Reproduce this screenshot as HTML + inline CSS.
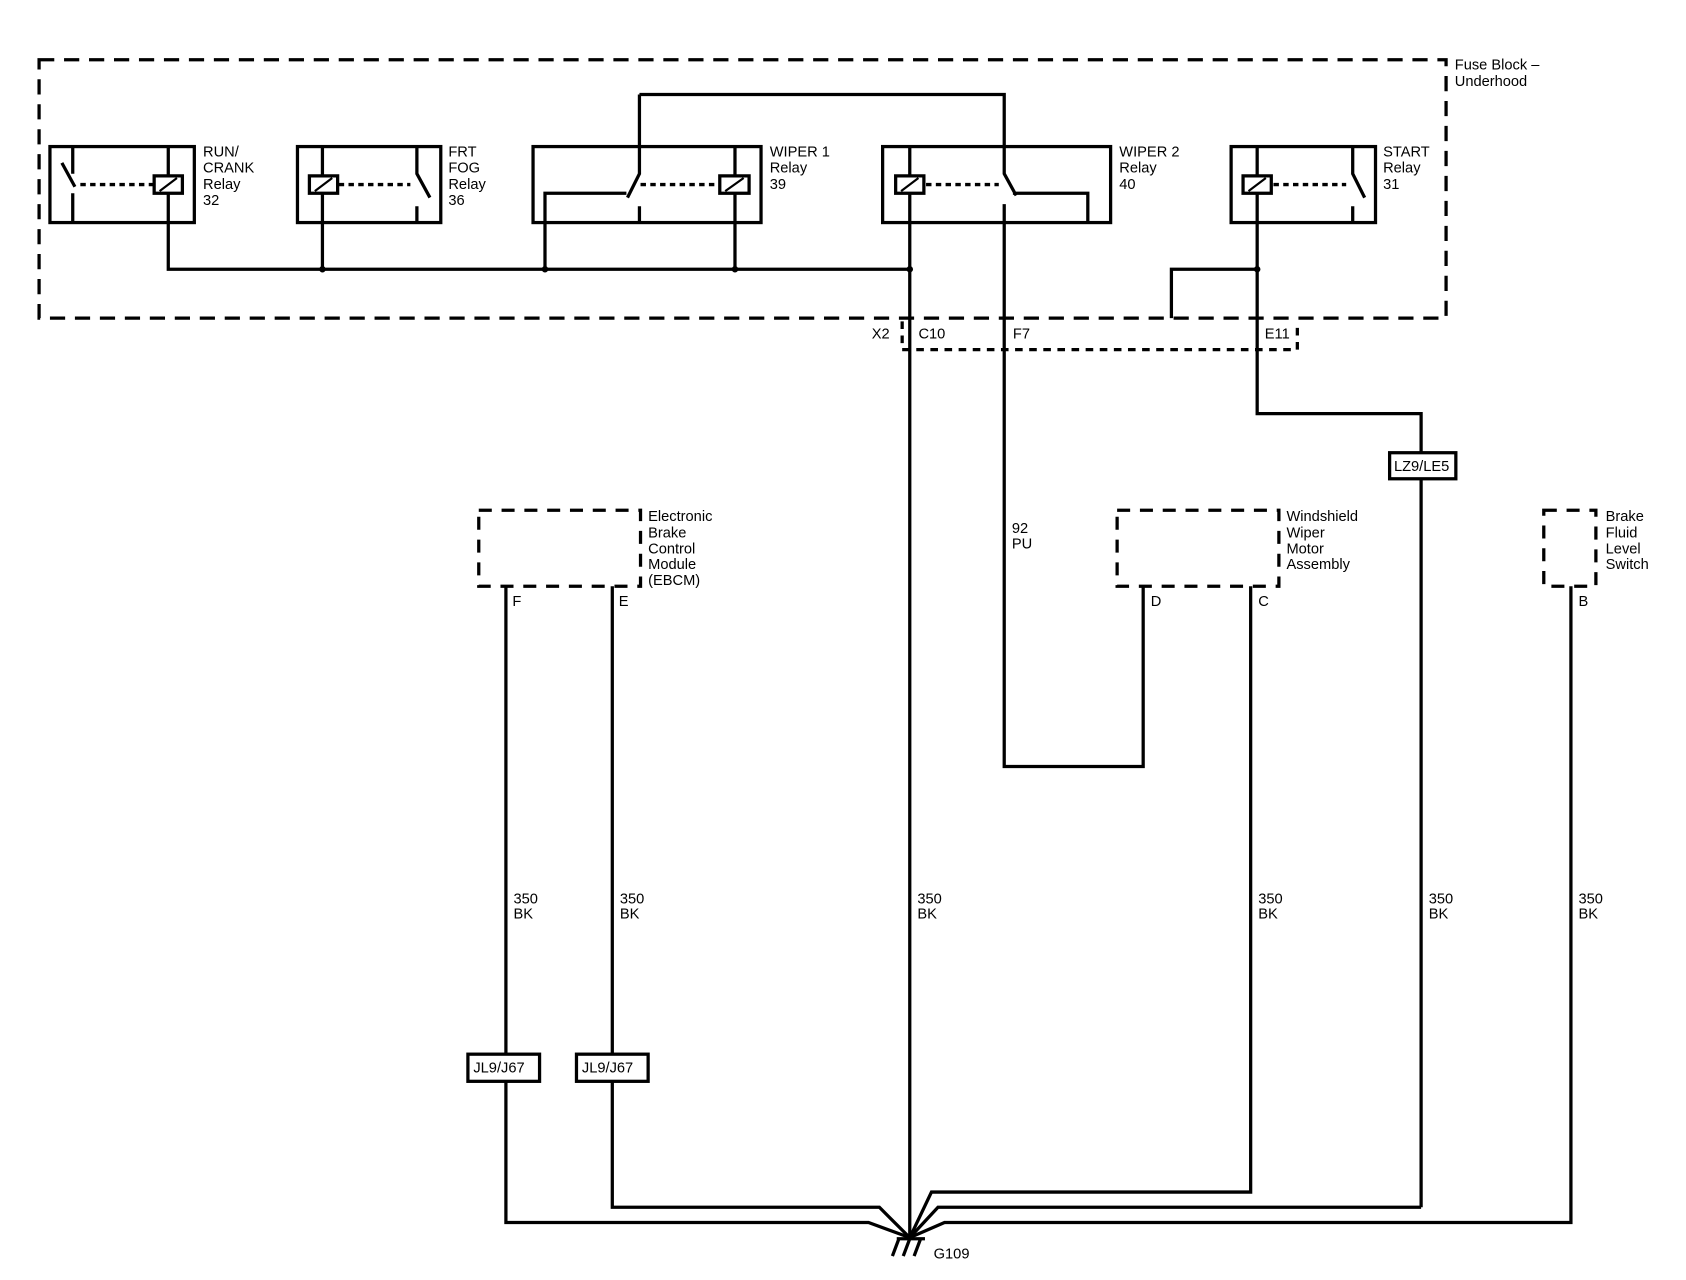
<!DOCTYPE html>
<html><head><style>
html,body{margin:0;padding:0;background:#fff;}
svg{display:block;}
text{font-family:"Liberation Sans",Arial,sans-serif;font-size:13.5px;fill:#000;}
</style></head><body>
<svg width="1686" height="1280" viewBox="0 0 1553 1179" preserveAspectRatio="none" xmlns="http://www.w3.org/2000/svg">
<g fill="none" stroke="#000" stroke-width="3" stroke-linecap="butt">
<!-- fuse block dashed -->
<rect x="36" y="55" width="1296" height="238" stroke-dasharray="14,9"/>
<!-- connector dashed -->
<path d="M831 296 V322 H1195 V296" stroke-dasharray="7,6"/>
<!-- relay boxes -->
<rect x="46" y="135" width="133" height="70"/>
<rect x="274" y="135" width="132" height="70"/>
<rect x="491" y="135" width="210" height="70"/>
<rect x="813" y="135" width="210" height="70"/>
<rect x="1134" y="135" width="133" height="70"/>
<!-- dashed armature lines -->
<g stroke-dasharray="5,4">
<path d="M74 170 H142"/><path d="M312 170 H378"/><path d="M590 170 H663"/><path d="M853 170 H920"/><path d="M1173 170 H1240"/>
</g>
<!-- switches -->
<path d="M67 135 V160 M57 150 L69 172 M67 178 V205"/>
<path d="M384 135 V160 L396 182 M384 190 V205"/>
<path d="M589 87 V160 L578 182 M589 190 V205 M577 178 H502 V248"/>
<path d="M589 87 H925 V160 L936 180 M925 188 V706 H1053 V540 M933 178 H1002 V205"/>
<path d="M1246 135 V160 L1257 182 M1246 190 V205"/>
<!-- coil wires -->
<path d="M155 135 V248 H838"/>
<path d="M297 135 V248"/>
<path d="M677 135 V248"/>
<path d="M838 135 V1140"/>
<path d="M1158 135 V381 H1309 V417 M1309 441 V1112"/>
<path d="M1158 248 H1079 V293"/>
<!-- coil boxes -->
<g fill="#fff">
<rect x="142" y="162" width="26" height="16"/>
<rect x="285" y="162" width="26" height="16"/>
<rect x="663" y="162" width="27" height="16"/>
<rect x="825" y="162" width="26" height="16"/>
<rect x="1145" y="162" width="26" height="16"/>
</g>
<path d="M147 176 L163 164 M290 176 L306 164 M668 176 L685 164 M830 176 L846 164 M1150 176 L1166 164" stroke-width="2"/>
<!-- modules -->
<g stroke-dasharray="12,9">
<rect x="441" y="470" width="149" height="70"/>
<rect x="1029" y="470" width="149" height="70"/>
<rect x="1422" y="470" width="48" height="70"/>
</g>
<!-- wires to ground -->
<path d="M466 540 V971 M466 996 V1126 H800 L838 1140"/>
<path d="M564 540 V971 M564 996 V1112 H810 L838 1140"/>
<path d="M1152 540 V1098 H858 L838 1140"/>
<path d="M1309 1112 H864 L838 1140"/>
<path d="M1447 540 V1126 H870 L838 1140"/>
<!-- inline boxes -->
<rect x="1280" y="417" width="61" height="24"/>
<rect x="431" y="971" width="66" height="25"/>
<rect x="531" y="971" width="66" height="25"/>
<!-- ground symbol -->
<path d="M826 1141 H852 M828 1141 L822 1157 M838 1141 L832 1157 M848 1141 L842 1157"/>
</g>
<g fill="#000">
<circle cx="297" cy="248" r="3"/><circle cx="502" cy="248" r="3"/><circle cx="677" cy="248" r="3"/><circle cx="838" cy="248" r="3"/><circle cx="1158" cy="248" r="3"/>
</g>
<text x="1340" y="64">Fuse Block –</text><text x="1340" y="79">Underhood</text>
<text x="187" y="144">RUN/</text><text x="187" y="159">CRANK</text><text x="187" y="174">Relay</text><text x="187" y="189">32</text>
<text x="413" y="144">FRT</text><text x="413" y="159">FOG</text><text x="413" y="174">Relay</text><text x="413" y="189">36</text>
<text x="709" y="144">WIPER 1</text><text x="709" y="159">Relay</text><text x="709" y="174">39</text>
<text x="1031" y="144">WIPER 2</text><text x="1031" y="159">Relay</text><text x="1031" y="174">40</text>
<text x="1274" y="144">START</text><text x="1274" y="159">Relay</text><text x="1274" y="174">31</text>
<text x="803" y="312">X2</text><text x="846" y="312">C10</text><text x="933" y="312">F7</text><text x="1165" y="312">E11</text>
<text x="1284" y="434">LZ9/LE5</text>
<text x="597" y="480">Electronic</text><text x="597" y="495">Brake</text><text x="597" y="510">Control</text><text x="597" y="524">Module</text><text x="597" y="539">(EBCM)</text>
<text x="1185" y="480">Windshield</text><text x="1185" y="495">Wiper</text><text x="1185" y="510">Motor</text><text x="1185" y="524">Assembly</text>
<text x="1479" y="480">Brake</text><text x="1479" y="495">Fluid</text><text x="1479" y="510">Level</text><text x="1479" y="524">Switch</text>
<text x="472" y="558">F</text><text x="570" y="558">E</text><text x="1060" y="558">D</text><text x="1159" y="558">C</text><text x="1454" y="558">B</text>
<text x="932" y="491">92</text><text x="932" y="505">PU</text>
<text x="473" y="832">350</text><text x="473" y="846">BK</text>
<text x="571" y="832">350</text><text x="571" y="846">BK</text>
<text x="845" y="832">350</text><text x="845" y="846">BK</text>
<text x="1159" y="832">350</text><text x="1159" y="846">BK</text>
<text x="1316" y="832">350</text><text x="1316" y="846">BK</text>
<text x="1454" y="832">350</text><text x="1454" y="846">BK</text>
<text x="436" y="988">JL9/J67</text><text x="536" y="988">JL9/J67</text>
<text x="860" y="1159">G109</text>
</svg>
</body></html>
